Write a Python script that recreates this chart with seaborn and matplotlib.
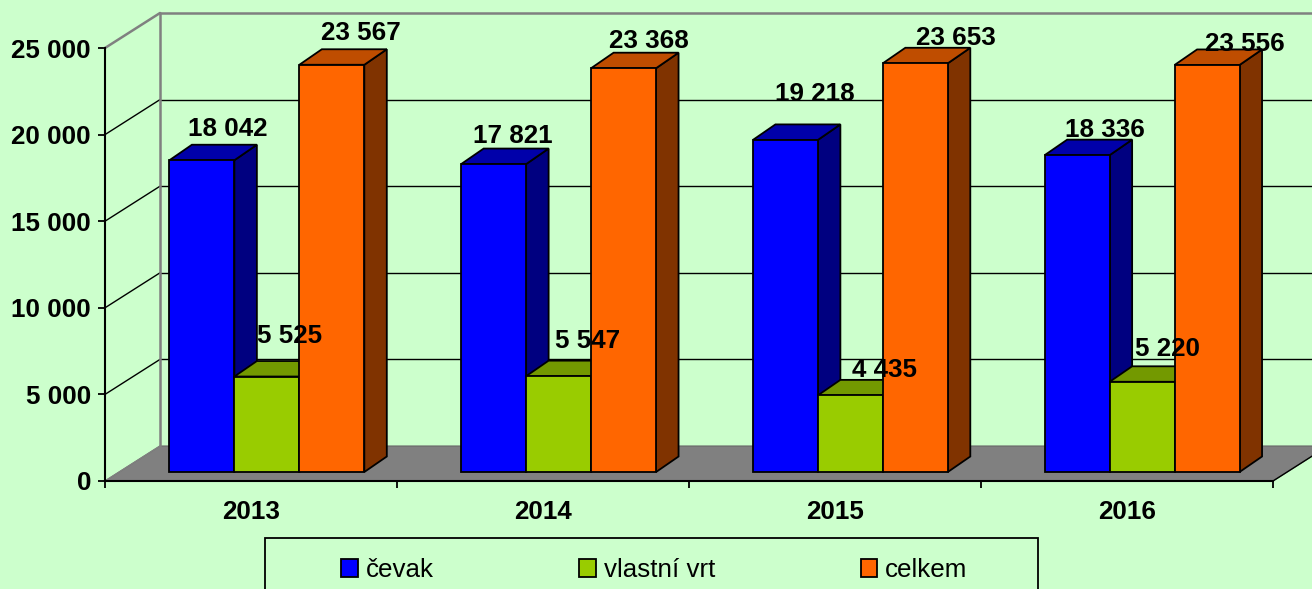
import matplotlib
matplotlib.use("Agg")
import matplotlib.pyplot as plt
from matplotlib.patches import Polygon, Rectangle
import pandas as pd
import seaborn as sn

# values
years = ["2013", "2014", "2015", "2016"]
cevak = [18042, 17821, 19218, 18336]
vrt = [5525, 5547, 4435, 5220]
celkem = [23567, 23368, 23653, 23556]
series_names = ["čevak", "vlastní vrt", "celkem"]
y_ticks = [0, 5000, 10000, 15000, 20000, 25000]

front_colors = ["#0000FF", "#99CC00", "#FF6600"]
top_colors = ["#0000AA", "#739900", "#BF4D00"]
side_colors = ["#000080", "#4D6600", "#803300"]
bg = "#CCFFCC"

# hand placed value labels, pixels away from the top of each bar (dx, dy up)
label_nudge = [
    [(26, 31), (23, 41), (29, 32)],
    [(19, 28), (29, 35), (25, 27)],
    [(29, 46), (34, 25), (41, 25)],
    [(28, 25), (25, 33), (38, 21)],
]

W, H = 1312, 589


def fmt(v):
    return f"{v:,}".replace(",", " ")


def box(left, right, bottom, top):
    return [left / W, 1 - bottom / H, (right - left) / W, (bottom - top) / H]


sn.set_theme(style="white")
plt.rcParams["font.family"] = ["Liberation Sans", "DejaVu Sans"]
plt.rcParams["text.color"] = "black"

fig = plt.figure(figsize=(W / 100, H / 100), dpi=100, facecolor=bg)

# Front axes carries ticks, labels, floor and back wall
ax0 = fig.add_axes(box(105, 1273, 481, 48))
ax0.set_facecolor("none")
ax0.set_xlim(-0.5, 3.5)
ax0.set_ylim(0, 25000)
ax0.set_yticks(y_ticks, [fmt(v) for v in y_ticks], fontsize=18.7, fontweight="bold", color="black")
ax0.set_xticks([-0.5, 0.5, 1.5, 2.5, 3.5], [""] * 5)
ax0.set_xticks(range(4), years, minor=True, fontsize=18.7, fontweight="bold", color="black")
ax0.tick_params(axis="y", length=5, width=1.3, color="black", pad=5, left=True)
ax0.tick_params(axis="x", which="major", length=5, width=1.3, color="black", bottom=True)
ax0.tick_params(axis="x", which="minor", length=0, pad=14)
for s in ["top", "right"]:
    ax0.spines[s].set_visible(False)
for s in ["left", "bottom"]:
    ax0.spines[s].set_color("black")
    ax0.spines[s].set_linewidth(1.5)
    ax0.spines[s].set_zorder(5)

unit_x = 1168 / 4
unit_y = 433 / 25000
wall_x = 55 / unit_x
wall_y = 35 / unit_y

ax0.add_patch(Polygon([(-0.5, 0), (3.5, 0), (3.5 + wall_x, wall_y), (-0.5 + wall_x, wall_y)],
                      facecolor="#808080", edgecolor="#666666", linewidth=0.8, clip_on=False, zorder=1))
for v in y_ticks[1:]:
    c = "#808080" if v == 25000 else "black"
    lw = 1.8 if v == 25000 else 1.0
    ax0.plot([-0.5, -0.5 + wall_x], [v, v + wall_y], color=c, lw=lw, clip_on=False, zorder=2)
    ax0.plot([-0.5 + wall_x, 3.5 + wall_x], [v + wall_y, v + wall_y], color=c, lw=lw, clip_on=False, zorder=2)
ax0.plot([-0.5, -0.5 + wall_x], [0, wall_y], color="#808080", lw=1.0, clip_on=False, zorder=2)
ax0.plot([-0.5 + wall_x, -0.5 + wall_x], [wall_y, 25000 + wall_y], color="#808080", lw=1.8, clip_on=False, zorder=2)
ax0.plot([3.5, 3.5 + wall_x], [0, wall_y], color="black", lw=1.0, clip_on=False, zorder=2)

# Bars sit a bit behind the front plane
df = pd.DataFrame({
    "year": years * 3,
    "series": [n for n in series_names for _ in years],
    "value": cevak + vrt + celkem,
})
ax = fig.add_axes(box(121, 1288, 472, 40))
ax.set_facecolor("none")
sn.barplot(df, x="year", y="value", hue="series", palette=front_colors, width=0.668, gap=0,
           saturation=1, edgecolor="black", linewidth=1.3, ax=ax)
ax.set_xlim(-0.5, 3.5)
ax.set_ylim(0, 25000)
ax.set_xlabel("")
ax.set_ylabel("")
ax.set_xticks([])
ax.set_yticks([])
for s in ax.spines.values():
    s.set_visible(False)

depth_x = 22.5 / 292
depth_y = 15.5 / (432 / 25000)

# top and side faces for every bar, taken from the bar itself
for i, cont in enumerate(ax.containers):
    for j, bar in enumerate(cont):
        x0, x1 = bar.get_x(), bar.get_x() + bar.get_width()
        h = bar.get_height()
        bar.set_zorder(3 + i * 3 + 2)
        bar.set_clip_on(False)
        ax.add_patch(Polygon([(x1, 0), (x1 + depth_x, depth_y), (x1 + depth_x, h + depth_y), (x1, h)],
                             facecolor=side_colors[i], edgecolor="black", linewidth=1.3,
                             clip_on=False, zorder=3 + i * 3))
        ax.add_patch(Polygon([(x0, h), (x1, h), (x1 + depth_x, h + depth_y), (x0 + depth_x, h + depth_y)],
                             facecolor=top_colors[i], edgecolor="black", linewidth=1.3,
                             clip_on=False, zorder=3 + i * 3 + 1))
        dx, dy = label_nudge[j][i]
        ax.annotate(fmt(int(h)), (x0 + (x1 - x0) / 2, h), xytext=(dx, dy), textcoords="offset pixels",
                    ha="center", va="center", fontsize=18.7, fontweight="bold", color="black",
                    annotation_clip=False, zorder=30)

# Legend, box drawn separately since it runs off the bottom
fig.add_artist(Rectangle((265 / W, -10 / H), (1038 - 265) / W, (589 + 10 - 538) / H,
                         transform=fig.transFigure, facecolor="none", edgecolor="black", linewidth=1.3))
handles, labels = ax.get_legend_handles_labels()
leg = ax.legend(handles, labels, loc="center left", bbox_to_anchor=(341 / W, 1 - 570 / H),
                bbox_transform=fig.transFigure, ncol=3, frameon=False, fontsize=18.7, borderpad=0,
                borderaxespad=0, handlelength=0.65, handleheight=0.65, handletextpad=0.3, columnspacing=5.6)
for t in leg.get_texts():
    t.set_color("black")

fig.savefig("out.png", dpi=100, facecolor=bg)
